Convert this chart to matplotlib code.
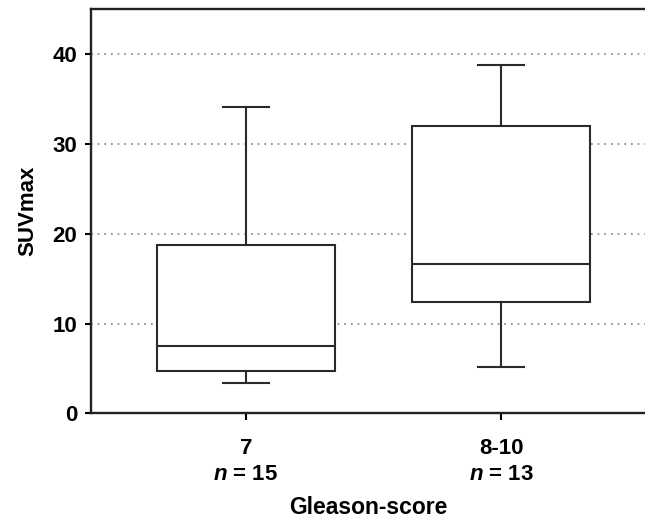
import matplotlib
matplotlib.use('Agg')
import matplotlib.pyplot as plt

# valori
groups = ['7', '8-10']
n_obs = [15, 13]
whis_lo = [3.35, 5.2]
q1 = [4.7, 12.45]
med = [7.5, 16.6]
q3 = [18.8, 31.95]
whis_hi = [34.1, 38.85]
yticks = [0, 10, 20, 30, 40]

plt.rcParams['font.family'] = ['Liberation Sans', 'DejaVu Sans']
plt.rcParams['font.weight'] = 'bold'
plt.rcParams['mathtext.fontset'] = 'custom'
plt.rcParams['mathtext.rm'] = 'Liberation Sans:bold'
plt.rcParams['mathtext.it'] = 'Liberation Sans:italic:bold'

fig = plt.figure(figsize=(6.45, 5.25), dpi=100)
ax = fig.add_axes([91/645, 1 - 413.3/525, 1 - 91/645, (413.3 - 9.3)/525])

stats = []
for i in range(len(groups)):
    stats.append({'whislo': whis_lo[i], 'q1': q1[i], 'med': med[i],
                  'q3': q3[i], 'whishi': whis_hi[i], 'fliers': []})

lc = '#2a2a2a'
ax.bxp(stats, positions=[1, 2], widths=0.70, showfliers=False,
       patch_artist=True, capwidths=0.18,
       boxprops=dict(facecolor='white', edgecolor=lc, linewidth=1.5),
       medianprops=dict(color=lc, linewidth=1.5),
       whiskerprops=dict(color=lc, linewidth=1.5),
       capprops=dict(color=lc, linewidth=1.5), zorder=3)

# griglia tratteggiata
for y in yticks[1:]:
    ax.axhline(y, color='#808080', linestyle=(0, (1, 3)), linewidth=1.2, zorder=1)

ax.set_xlim(1 - 155/255, 2 + 144/255)
ax.set_ylim(0, 45)
ax.set_yticks(yticks)
ax.set_xticks([1, 2])
ax.set_xticklabels([g + '\n$n$ = ' + str(k) for g, k in zip(groups, n_obs)],
                   linespacing=1.3)

for s in ['left', 'bottom', 'top']:
    ax.spines[s].set_linewidth(1.7)
    ax.spines[s].set_color('#222222')
ax.spines['right'].set_visible(False)

ax.tick_params(axis='y', direction='out', length=4, width=1.5, labelsize=16, pad=6)
ax.tick_params(axis='x', direction='out', length=5, width=1.5, labelsize=16, pad=13)

ax.set_ylabel('SUVmax', fontsize=16, fontweight='bold', labelpad=10)
ax.set_xlabel('Gleason-score', fontsize=16.5, fontweight='bold', labelpad=8)

fig.savefig('out.png', dpi=100)
